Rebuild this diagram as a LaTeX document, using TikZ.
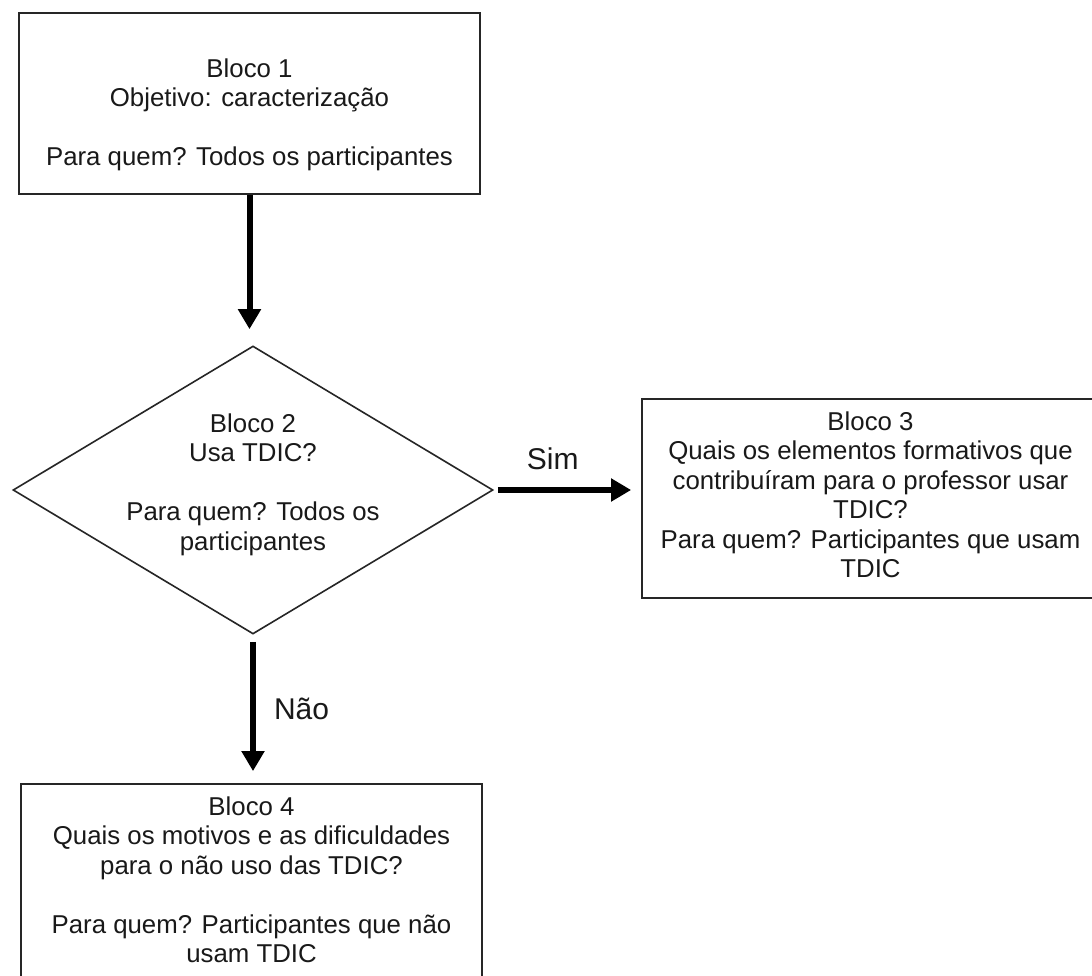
\documentclass[tikz,border=0pt]{standalone}
\usepackage{fontspec}
\setmainfont{Liberation Sans}
\usetikzlibrary{arrows.meta,shapes.geometric}
\begin{document}
\begin{tikzpicture}[x=1pt,y=-1pt,
  box/.style={draw=black!85, line width=1.8pt, rectangle, inner sep=0pt},
  decision/.style={draw=black!85, line width=1.6pt, diamond, inner sep=0pt, aspect=1.667},
  txt/.style={align=center, font=\fontsize{25.8}{29.5}\selectfont, text=black!90, inner sep=0pt},
  lbl/.style={font=\fontsize{30}{34}\selectfont, text=black!90, inner sep=0pt},
  flow/.style={line width=6pt, black, -{Triangle[width=22pt,length=20pt]}}]
\useasboundingbox (0,0) rectangle (1092,976);
\fill[white] (0,0) rectangle (1092,976);
\clip (0,0) rectangle (1092,976);

\node[box, minimum width=461pt, minimum height=181pt,
  label={[txt, yshift=-11.5pt]center:{Bloco 1\\Objetivo: caracterização\\[29.5pt]Para quem? Todos os participantes}}]
  (b1) at (249.5,103.5) {};

\node[decision, minimum width=480pt, minimum height=288pt,
  label={[txt, yshift=5.5pt]center:{Bloco 2\\Usa TDIC?\\[29.5pt]Para quem? Todos os\\participantes}}]
  (d2) at (253,490) {};

\node[box, minimum width=457pt, minimum height=199pt,
  label={[txt, yshift=3.5pt]center:{Bloco 3\\Quais os elementos formativos que\\contribuíram para o professor usar\\TDIC?\\Para quem? Participantes que usam\\TDIC}}]
  (b3) at (870.5,498.5) {};

\node[box, minimum width=461pt, minimum height=208pt,
  label={[txt, yshift=8pt]center:{Bloco 4\\Quais os motivos e as dificuldades\\para o não uso das TDIC?\\[29.5pt]Para quem? Participantes que não\\usam TDIC}}]
  (b4) at (251.5,888) {};

\draw[flow, shorten >=16pt] (b1.south) -- (b1.south |- d2.north);
\draw[flow, shorten <=4pt, shorten >=10pt] (d2.east) -- (b3.west |- d2.east)
  node[lbl, pos=0.4, above=17pt] (sim) {Sim};
\draw[flow, shorten <=7pt, shorten >=12pt] (d2.south) -- (d2.south |- b4.north)
  node[lbl, pos=0.5, right=18pt] (nao) {Não};
\end{tikzpicture}
\end{document}
